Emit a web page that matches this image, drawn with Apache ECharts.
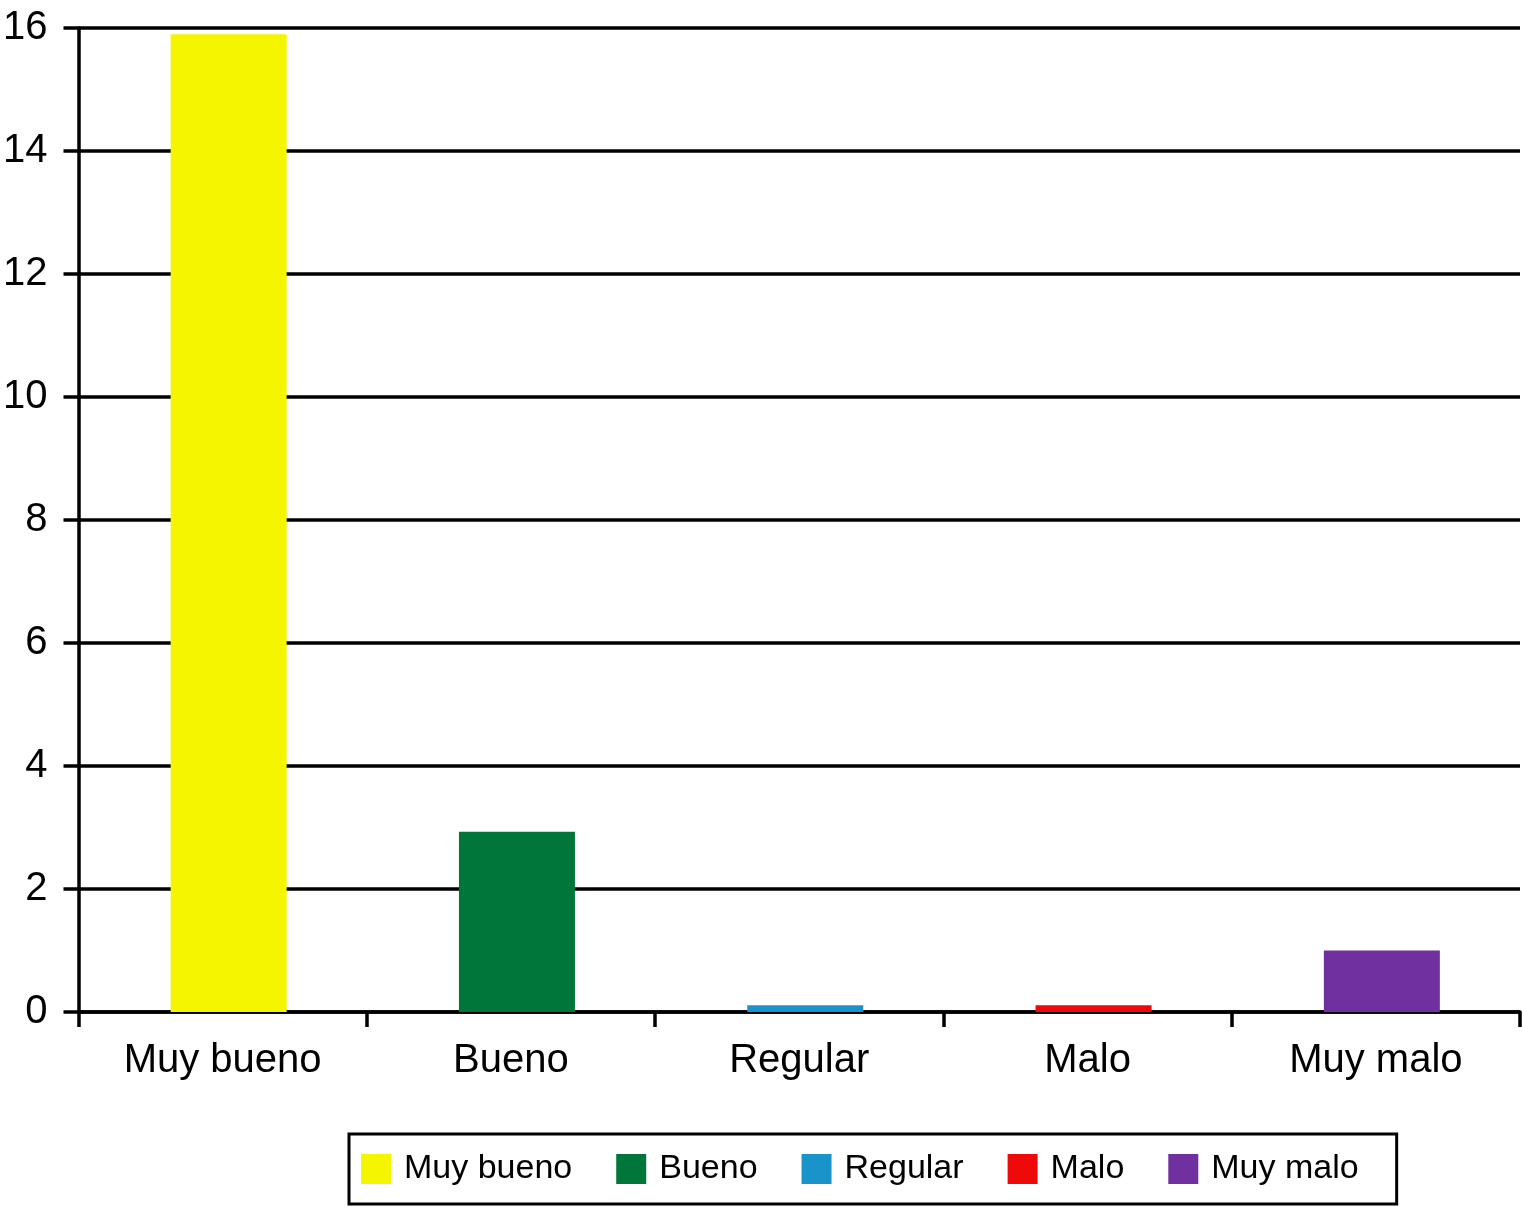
<!DOCTYPE html>
<html>
<head>
<meta charset="utf-8">
<script src="https://cdn.jsdelivr.net/npm/echarts@6/dist/echarts.min.js"></script>
<style>html,body{margin:0;padding:0;background:#fff}#c{width:1522px;height:1207px}</style>
</head>
<body>
<div id="c"></div>
<script>
const categories = ['Muy bueno', 'Bueno', 'Regular', 'Malo', 'Muy malo'];
const values = [15.9, 2.93, 0.11, 0.11, 1.0];
const colors = ['#F5F500', '#00763A', '#1A93CB', '#EE0A0A', '#7030A0'];
const yTicks = { min: 0, max: 16, interval: 2 };

const FONT = '"Liberation Sans", Arial, Helvetica, sans-serif';
// empty spacer stack so the bars sit slightly right of category centre, as in the original
const spacer = {
  name: '_spacer', type: 'bar', stack: 'pad', barWidth: 12, barGap: '0%',
  silent: true, itemStyle: { color: 'rgba(0,0,0,0)' },
  data: categories.map(() => '-')
};
const series = [spacer].concat(categories.map((name, i) => ({
  name: name,
  type: 'bar',
  stack: 'one',
  barWidth: 116,
  barGap: '0%',
  itemStyle: { color: colors[i] },
  data: categories.map((c, j) => (j === i ? values[i] : '-'))
})));

const chart = echarts.init(document.getElementById('c'));
chart.setOption({
  animation: false,
  backgroundColor: '#fff',
  grid: { left: 75, right: 2, top: 28, bottom: 195, containLabel: false },
  legend: {
    left: 349, top: 1134,
    orient: 'horizontal',
    itemWidth: 30, itemHeight: 30, itemGap: 44,
    padding: [18, 38, 18, 12],
    borderColor: '#000', borderWidth: 3,
    icon: 'rect',
    textStyle: { fontSize: 34, fontFamily: FONT, color: '#000', padding: [0, 0, 0, 8] },
    data: categories
  },
  xAxis: {
    type: 'category',
    data: categories,
    boundaryGap: true,
    axisLine: { show: true, lineStyle: { color: '#000', width: 3.5 } },
    axisTick: { show: true, length: 15, lineStyle: { color: '#000', width: 3.5 } },
    axisLabel: { fontSize: 40, fontFamily: FONT, color: '#000', margin: 29 },
    splitLine: { show: false }
  },
  yAxis: {
    type: 'value',
    min: yTicks.min, max: yTicks.max, interval: yTicks.interval,
    axisLine: { show: true, lineStyle: { color: '#000', width: 3.5 } },
    axisTick: { show: true, length: 15, lineStyle: { color: '#000', width: 3.5 } },
    axisLabel: { fontSize: 40, fontFamily: FONT, color: '#000', margin: 31 },
    splitLine: { show: true, lineStyle: { color: '#000', width: 3.5 } }
  },
  series: series
});
</script>
</body>
</html>
